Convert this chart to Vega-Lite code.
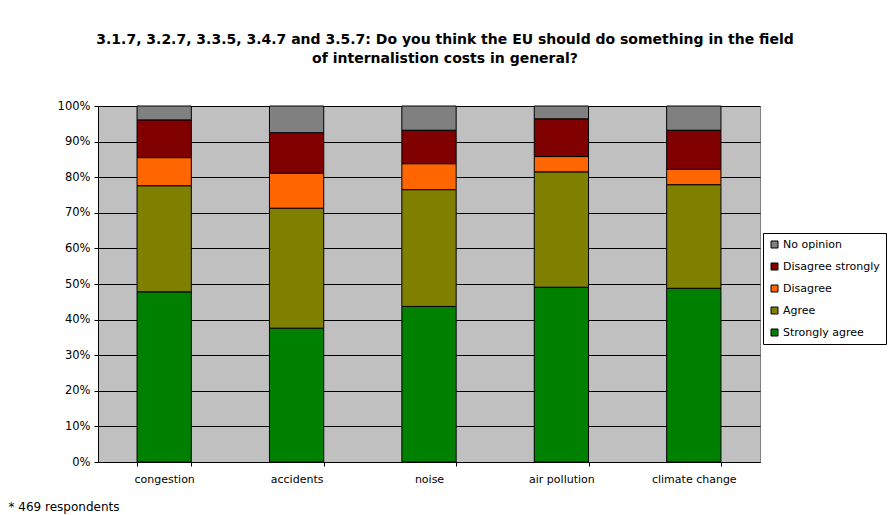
{
  "$schema": "https://vega.github.io/schema/vega-lite/v6.json",
  "width": 662,
  "height": 356,
  "autosize": {"type": "none"},
  "padding": {"left": 98, "top": 106, "right": 130, "bottom": 53},
  "background": "white",
  "title": {
    "text": ["3.1.7, 3.2.7, 3.3.5, 3.4.7 and 3.5.7: Do you think the EU should do something in the field", "of internalistion costs in general?"],
    "font": "DejaVu Sans",
    "fontSize": 14,
    "fontWeight": "bold",
    "color": "black",
    "anchor": "middle",
    "frame": "group",
    "dx": 16,
    "offset": 34,
    "lineHeight": 19
  },
  "data": {
    "values": [
      {"category": "congestion", "response": "Strongly agree", "value": 47.8},
      {"category": "congestion", "response": "Agree", "value": 29.8},
      {"category": "congestion", "response": "Disagree", "value": 7.9},
      {"category": "congestion", "response": "Disagree strongly", "value": 10.6},
      {"category": "congestion", "response": "No opinion", "value": 3.9},
      {"category": "accidents", "response": "Strongly agree", "value": 37.6},
      {"category": "accidents", "response": "Agree", "value": 33.7},
      {"category": "accidents", "response": "Disagree", "value": 9.8},
      {"category": "accidents", "response": "Disagree strongly", "value": 11.4},
      {"category": "accidents", "response": "No opinion", "value": 7.5},
      {"category": "noise", "response": "Strongly agree", "value": 43.7},
      {"category": "noise", "response": "Agree", "value": 32.8},
      {"category": "noise", "response": "Disagree", "value": 7.3},
      {"category": "noise", "response": "Disagree strongly", "value": 9.4},
      {"category": "noise", "response": "No opinion", "value": 6.8},
      {"category": "air pollution", "response": "Strongly agree", "value": 49.1},
      {"category": "air pollution", "response": "Agree", "value": 32.4},
      {"category": "air pollution", "response": "Disagree", "value": 4.3},
      {"category": "air pollution", "response": "Disagree strongly", "value": 10.6},
      {"category": "air pollution", "response": "No opinion", "value": 3.6},
      {"category": "climate change", "response": "Strongly agree", "value": 48.8},
      {"category": "climate change", "response": "Agree", "value": 29.1},
      {"category": "climate change", "response": "Disagree", "value": 4.3},
      {"category": "climate change", "response": "Disagree strongly", "value": 11.0},
      {"category": "climate change", "response": "No opinion", "value": 6.8}
    ]
  },
  "transform": [
    {"calculate": "indexof(['Strongly agree','Agree','Disagree','Disagree strongly','No opinion'], datum.response)", "as": "rank"}
  ],
  "mark": {"type": "bar", "stroke": "black", "strokeWidth": 1},
  "encoding": {
    "x": {
      "field": "category",
      "type": "nominal",
      "sort": ["congestion", "accidents", "noise", "air pollution", "climate change"],
      "scale": {"paddingInner": 0.59, "paddingOuter": 0.295},
      "axis": {
        "title": "* 469 respondents",
        "titleFont": "DejaVu Sans",
        "titleFontSize": 12,
        "titleFontWeight": "normal",
        "titleColor": "black",
        "titleAnchor": "start",
        "titleAlign": "left",
        "titleX": -90,
        "titleY": 48,
        "titleBaseline": "alphabetic",
        "labelAngle": 0,
        "labelFont": "DejaVu Sans",
        "labelFontSize": 11,
        "labelColor": "black",
        "labelPadding": 7,
        "tickBand": "extent",
        "tickColor": "black",
        "tickSize": 4,
        "domainColor": "black",
        "grid": false
      }
    },
    "y": {
      "field": "value",
      "type": "quantitative",
      "stack": "normalize",
      "scale": {"domain": [0, 1], "nice": false},
      "axis": {
        "title": null,
        "format": ".0%",
        "values": [0, 0.1, 0.2, 0.3, 0.4, 0.5, 0.6, 0.7, 0.8, 0.9, 1],
        "labelFont": "DejaVu Sans",
        "labelFontSize": 11.5,
        "labelColor": "black",
        "labelPadding": 4,
        "tickColor": "black",
        "tickSize": 4,
        "domainColor": "black",
        "grid": true,
        "gridColor": "black",
        "gridOpacity": 1,
        "gridWidth": 1
      }
    },
    "color": {
      "field": "response",
      "type": "nominal",
      "scale": {
        "domain": ["No opinion", "Disagree strongly", "Disagree", "Agree", "Strongly agree"],
        "range": ["#808080", "#800000", "#FF6600", "#808000", "#008000"]
      },
      "legend": {
        "title": null,
        "orient": "none",
        "legendX": 665,
        "legendY": 127,
        "padding": 6,
        "strokeColor": "black",
        "fillColor": "white",
        "symbolType": "square",
        "symbolSize": 49,
        "symbolStrokeColor": "black",
        "symbolStrokeWidth": 1,
        "symbolOpacity": 1,
        "labelFont": "DejaVu Sans",
        "labelFontSize": 11,
        "labelColor": "black",
        "labelOffset": 3,
        "rowPadding": 10,
        "labelLimit": 200
      }
    },
    "order": {"field": "rank", "type": "quantitative"}
  },
  "config": {
    "view": {"fill": "#C0C0C0", "stroke": "#808080", "strokeWidth": 1}
  }
}
